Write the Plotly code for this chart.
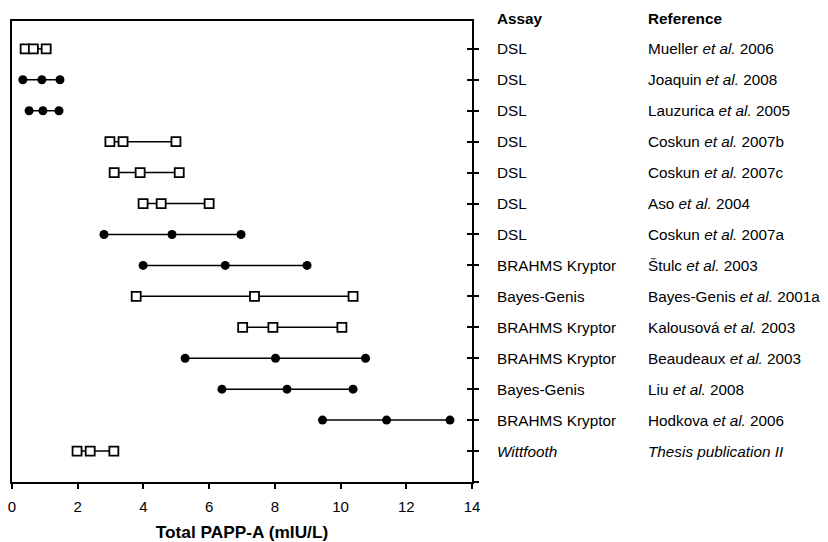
import plotly.graph_objects as go

# ---- data ----
assays = ["DSL", "DSL", "DSL", "DSL", "DSL", "DSL", "DSL",
          "BRAHMS Kryptor", "Bayes-Genis", "BRAHMS Kryptor", "BRAHMS Kryptor",
          "Bayes-Genis", "BRAHMS Kryptor", "<i>Wittfooth</i>"]
references = ["Mueller <i>et al.</i> 2006", "Joaquin <i>et al.</i> 2008",
              "Lauzurica <i>et al.</i> 2005", "Coskun <i>et al.</i> 2007b",
              "Coskun <i>et al.</i> 2007c", "Aso <i>et al.</i> 2004",
              "Coskun <i>et al.</i> 2007a", "Štulc <i>et al.</i> 2003",
              "Bayes-Genis <i>et al.</i> 2001a", "Kalousová <i>et al.</i> 2003",
              "Beaudeaux <i>et al.</i> 2003", "Liu <i>et al.</i> 2008",
              "Hodkova <i>et al.</i> 2006", "<i>Thesis publication II</i>"]
low_vals = [0.40, 0.33, 0.52, 2.98, 3.11, 3.99, 2.80, 3.99, 3.78, 7.02, 5.27, 6.39, 9.45, 1.98]
mid_vals = [0.65, 0.91, 0.94, 3.38, 3.90, 4.54, 4.87, 6.49, 7.38, 7.94, 8.02, 8.37, 11.40, 2.38]
high_vals = [1.04, 1.46, 1.43, 4.99, 5.09, 6.00, 6.97, 8.98, 10.38, 10.04, 10.76, 10.38, 13.33, 3.10]
marker_kind = ["square", "circle", "circle", "square", "square", "square", "circle",
               "circle", "square", "square", "circle", "circle", "circle", "square"]
rows = list(range(1, len(assays) + 1))
x_ticks = [0, 2, 4, 6, 8, 10, 12, 14]

FONT = "Liberation Sans, Arial, sans-serif"
TXT = 15.3
fig = go.Figure()

for r, lo, mi, hi, kind in zip(rows, low_vals, mid_vals, high_vals, marker_kind):
    if kind == "square":
        mk = dict(symbol="square", size=9, color="white", line=dict(color="black", width=1.8))
    else:
        mk = dict(symbol="circle", size=9, color="black", line=dict(color="black", width=0))
    fig.add_trace(go.Scatter(x=[lo, mi, hi], y=[r, r, r], mode="lines+markers",
                             line=dict(color="black", width=1.5), marker=mk,
                             showlegend=False, hoverinfo="x", cliponaxis=False))

yrange = [15, 0.1]
tickrows = rows + [15]
# invisible helpers so the right-hand cross ticks are drawn
for ax in ["y2", "y3"]:
    fig.add_trace(go.Scatter(x=[0], y=[1], yaxis=ax, mode="markers",
                             marker=dict(opacity=0), showlegend=False, hoverinfo="skip"))

XA, XR = 1.0505, 1.378
ann = []
for r, a, ref in zip(rows, assays, references):
    ann.append(dict(x=XA, xref="paper", y=r, yref="y", text=a, showarrow=False,
                    xanchor="left", yanchor="middle", font=dict(size=TXT, color="black", family=FONT)))
    ann.append(dict(x=XR, xref="paper", y=r, yref="y", text=ref, showarrow=False,
                    xanchor="left", yanchor="middle", font=dict(size=TXT, color="black", family=FONT)))
ann.append(dict(x=XA, xref="paper", y=1.006, yref="paper", text="<b>Assay</b>", showarrow=False,
                xanchor="left", yanchor="middle", font=dict(size=TXT, color="black", family=FONT)))
ann.append(dict(x=XR, xref="paper", y=1.006, yref="paper", text="<b>Reference</b>", showarrow=False,
                xanchor="left", yanchor="middle", font=dict(size=TXT, color="black", family=FONT)))

fig.update_layout(
    width=820, height=534,
    margin=dict(l=4, r=356, t=13, b=60, autoexpand=False),
    paper_bgcolor="white", plot_bgcolor="white",
    font=dict(family=FONT, size=15, color="black"),
    annotations=ann,
    xaxis=dict(range=[0, 14], tickvals=x_ticks, ticks="outside", ticklen=5, tickwidth=1.5,
               tickcolor="black", showline=True, linecolor="black", linewidth=1.8, mirror=True,
               showgrid=False, zeroline=False, automargin=False,
               ticklabeloverflow="allow", ticklabelstandoff=5,
               title=dict(text="<b>Total PAPP-A (mIU/L)</b>", font=dict(size=17.3), standoff=14),
               tickfont=dict(size=15)),
    yaxis=dict(range=yrange, showline=True, linecolor="black", linewidth=1.8, ticks="",
               showticklabels=False, showgrid=False, zeroline=False, automargin=False),
    yaxis2=dict(range=yrange, overlaying="y", side="right", showline=True, linecolor="black",
                linewidth=1.8, ticks="outside", ticklen=5, tickwidth=1.5, tickcolor="black",
                tickvals=tickrows, showticklabels=False, showgrid=False, zeroline=False,
                automargin=False),
    yaxis3=dict(range=yrange, overlaying="y", side="right", showline=False,
                ticks="inside", ticklen=5, tickwidth=1.5, tickcolor="black",
                tickvals=tickrows, showticklabels=False, showgrid=False, zeroline=False,
                automargin=False),
)

fig.write_html("out.html")
